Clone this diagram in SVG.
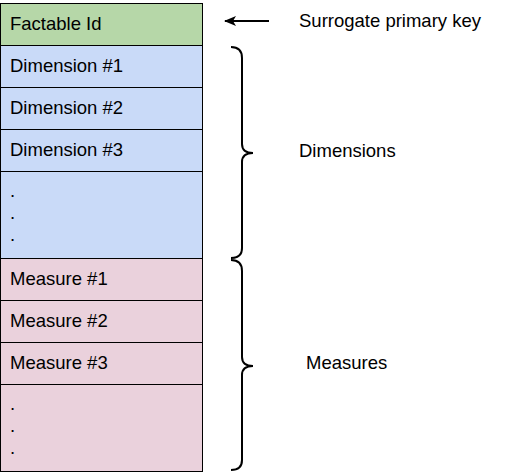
<svg xmlns="http://www.w3.org/2000/svg" width="513" height="473" viewBox="0 0 513 473">
<style>
text{font-family:"Liberation Sans",Arial,sans-serif;font-size:18.5px;fill:#000}
.row{stroke:#000;stroke-width:1}
.g{fill:#b6d7a8}.b{fill:#c9daf8}.p{fill:#ead1dc}
.br{fill:none;stroke:#000;stroke-width:2}
</style>
<defs>
<marker id="ah" markerWidth="12" markerHeight="10" refX="11" refY="5" orient="auto" markerUnits="userSpaceOnUse">
<path d="M0,0 L12,5 L0,10 L3,5 Z" fill="#000"/>
</marker>
</defs>
<rect width="513" height="473" fill="#fff"/>
<g id="factable-id"><rect class="row g" x="0.5" y="3.5" width="202" height="42"/><text x="10" y="30">Factable Id</text></g>
<g id="dimension-1"><rect class="row b" x="0.5" y="45.5" width="202" height="42"/><text x="10" y="72">Dimension #1</text></g>
<g id="dimension-2"><rect class="row b" x="0.5" y="87.5" width="202" height="42"/><text x="10" y="114">Dimension #2</text></g>
<g id="dimension-3"><rect class="row b" x="0.5" y="129.5" width="202" height="42"/><text x="10" y="156">Dimension #3</text></g>
<g id="dimension-more"><rect class="row b" x="0.5" y="171.5" width="202" height="87"/><text x="10" y="197">.</text><text x="10" y="219">.</text><text x="10" y="241">.</text></g>
<g id="measure-1"><rect class="row p" x="0.5" y="258.5" width="202" height="42"/><text x="10" y="285">Measure #1</text></g>
<g id="measure-2"><rect class="row p" x="0.5" y="300.5" width="202" height="42"/><text x="10" y="327">Measure #2</text></g>
<g id="measure-3"><rect class="row p" x="0.5" y="342.5" width="202" height="42"/><text x="10" y="369">Measure #3</text></g>
<g id="measure-more"><rect class="row p" x="0.5" y="384.5" width="202" height="87"/><text x="10" y="410">.</text><text x="10" y="432">.</text><text x="10" y="454">.</text></g>
<g id="connectors">
<line x1="269" y1="21" x2="225" y2="21" stroke="#000" stroke-width="2" marker-end="url(#ah)"/>
<path class="br" d="M231,47 Q242,47 242,58 L242,144 Q242,153 253,153 Q242,153 242,162 L242,248 Q242,258 231,258"/>
<path class="br" d="M231,260 Q242,260 242,271 L242,357 Q242,366 253,366 Q242,366 242,375 L242,460 Q242,470 231,470"/>
</g>
<g id="label-surrogate"><text x="299" y="27">Surrogate primary key</text></g>
<g id="label-dimensions"><text x="299" y="157">Dimensions</text></g>
<g id="label-measures"><text x="306" y="369">Measures</text></g>
</svg>
